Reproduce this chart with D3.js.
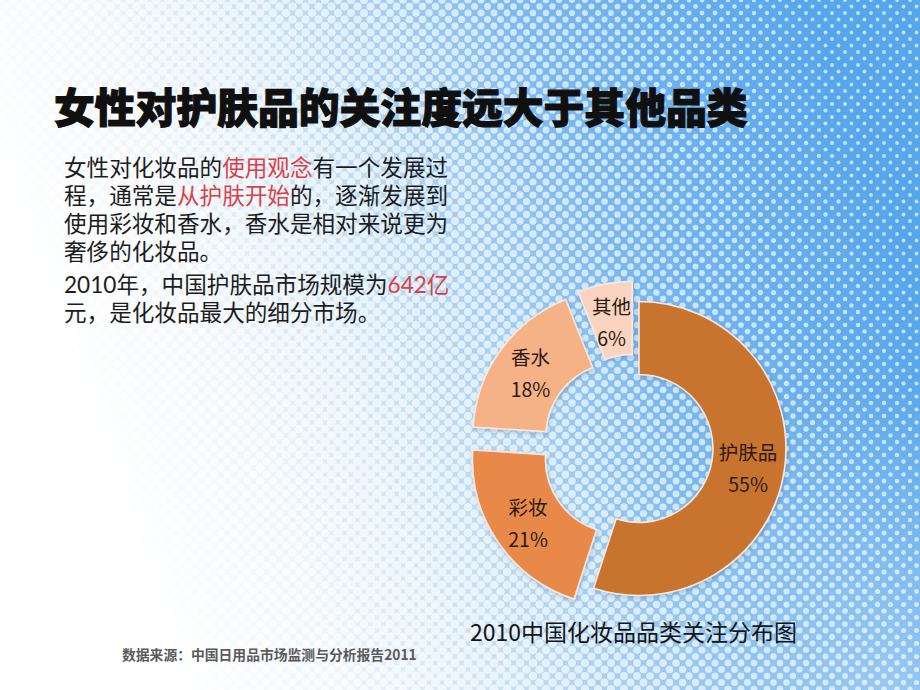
<!DOCTYPE html>
<html><head><meta charset="utf-8">
<script src="https://cdn.jsdelivr.net/npm/d3@7"></script>
<style>html,body{margin:0;padding:0;background:#fff;} svg{display:block}</style>
</head><body><svg id="c" width="920" height="690"></svg>
<script>
// ---------- data ----------
const categories = ["护肤品", "彩妆", "香水", "其他"];
const shares = [55, 21, 18, 6];
const shareLabels = ["55%", "21%", "18%", "6%"];

const titleText = "女性对护肤品的关注度远大于其他品类";
const chartCaption = "2010中国化妆品品类关注分布图";
const sourceText = "数据来源：中国日用品市场监测与分析报告2011";
// each line: list of [text, highlighted]
const para1 = [
  [["女性对化妆品的", 0], ["使用观念", 1], ["有一个发展过", 0]],
  [["程，通常是", 0], ["从护肤开始", 1], ["的，逐渐发展到", 0]],
  [["使用彩妆和香水，香水是相对来说更为", 0]],
  [["奢侈的化妆品。", 0]]
];
const para2 = [
  [["2010年，中国护肤品市场规模为", 0], ["642亿", 1]],
  [["元，是化妆品最大的细分市场。", 0]]
];

// ---------- styles ----------
const sliceColors = ["#c8732f", "#e8894a", "#f5b287", "#fad4c0"];
const explode = [3, 20, 20, 20];
const FONT = "'Noto Sans CJK SC','Noto Sans',sans-serif";
const BODY_FONT = "Lato,'Noto Sans CJK SC',sans-serif";

const W = 920, H = 690;
const svg = d3.select("#c");
const defs = svg.append("defs");

// ---------- background ----------
const lg = defs.append("linearGradient").attr("id", "bg")
  .attr("gradientUnits", "userSpaceOnUse")
  .attr("x1", 120).attr("y1", 520).attr("x2", 900).attr("y2", 240);
[[0, "#ffffff"], [0.18, "#f0f5f9"], [0.4, "#bedcf4"], [0.66, "#7ab9ef"], [1, "#56a6ec"]]
  .forEach(([o, c]) => lg.append("stop").attr("offset", o).attr("stop-color", c));
const rg = defs.append("radialGradient").attr("id", "br")
  .attr("gradientUnits", "userSpaceOnUse").attr("cx", 900).attr("cy", 690).attr("r", 300);
rg.append("stop").attr("offset", 0).attr("stop-color", "#ffffff").attr("stop-opacity", 0.3);
rg.append("stop").attr("offset", 1).attr("stop-color", "#ffffff").attr("stop-opacity", 0);

svg.append("rect").attr("width", W).attr("height", H).attr("fill", "url(#bg)");
svg.append("rect").attr("width", W).attr("height", H).attr("fill", "url(#br)");

// halftone dots
const dx = 780, dy = -280, len2 = dx * dx + dy * dy;
const tOf = (x, y) => Math.max(0, Math.min(1, ((x - 120) * dx + (y - 520) * dy) / len2));
const rScale = d3.scaleLinear().domain([0, 0.3, 0.55, 1]).range([3.4, 4.7, 3.8, 1.9]);
const dots = [];
const s = 13;
for (let row = 0; row * s * 0.5 <= H + s; row++) {
  const y = row * s * 0.5;
  const off = (row % 2) * s * 0.5;
  for (let x = off; x <= W + s; x += s) dots.push([x, y]);
}
svg.append("g").attr("fill", "#ffffff").attr("fill-opacity", 0.65)
  .selectAll("circle").data(dots).join("circle")
  .attr("cx", d => d[0]).attr("cy", d => d[1])
  .attr("r", d => rScale(tOf(d[0], d[1])));

// ---------- title ----------
svg.append("text").attr("x", 54).attr("y", 123)
  .attr("font-family", FONT).attr("font-size", 40.8).attr("font-weight", 900)
  .attr("fill", "#101010").attr("stroke", "#101010").attr("stroke-width", 1.2)
  .text(titleText);

// ---------- body text ----------
function drawPara(lines, y0, lh) {
  lines.forEach((ln, i) => {
    const t = svg.append("text").attr("x", 64).attr("y", y0 + i * lh)
      .attr("font-family", BODY_FONT).attr("font-size", 22.6).attr("fill", "#1c1c1c");
    ln.forEach(([txt, hi]) => t.append("tspan").attr("fill", hi ? "#dc3f47" : "#1c1c1c").text(txt));
  });
}
drawPara(para1, 176, 28);
drawPara(para2, 293, 28);

// ---------- donut ----------
const cx = 636, cy = 448, R = 147, r0 = 74;
const shadow = defs.append("filter").attr("id", "sh").attr("x", "-20%").attr("y", "-20%").attr("width", "140%").attr("height", "140%");
shadow.append("feDropShadow").attr("dx", 1).attr("dy", 2).attr("stdDeviation", 2)
  .attr("flood-color", "#204060").attr("flood-opacity", 0.25);

const pie = d3.pie().sort(null).value(d => d).startAngle(0).endAngle(2 * Math.PI);
const arcs = pie(shares);
const arc = d3.arc().innerRadius(r0).outerRadius(R);
const g = svg.append("g").attr("transform", `translate(${cx},${cy})`);

const sl = g.selectAll("g.sl").data(arcs).join("g").attr("class", "sl")
  .attr("transform", (d, i) => {
    const a = (d.startAngle + d.endAngle) / 2;
    return `translate(${Math.sin(a) * explode[i]},${-Math.cos(a) * explode[i]})`;
  });
sl.append("path").attr("d", arc).attr("fill", (d, i) => sliceColors[i])
  .attr("stroke", "#f7e9df").attr("stroke-width", 1.6).attr("filter", "url(#sh)");

sl.each(function (d, i) {
  const [x, y] = arc.centroid(d);
  const t = d3.select(this).append("text").attr("text-anchor", "middle")
    .attr("font-family", FONT).attr("font-size", 19.5).attr("fill", "#2a1a10");
  t.append("tspan").attr("x", x).attr("y", y - 6).text(categories[i]);
  t.append("tspan").attr("x", x).attr("y", y + 26).text(shareLabels[i]);
});

// ---------- caption & source ----------
svg.append("text").attr("x", 470).attr("y", 641)
  .attr("font-family", FONT).attr("font-size", 23).attr("fill", "#151515")
  .text(chartCaption);
svg.append("text").attr("x", 122).attr("y", 660)
  .attr("font-family", FONT).attr("font-size", 13.8).attr("font-weight", 700).attr("fill", "#5a5a5a")
  .text(sourceText);
</script>
</body></html>
